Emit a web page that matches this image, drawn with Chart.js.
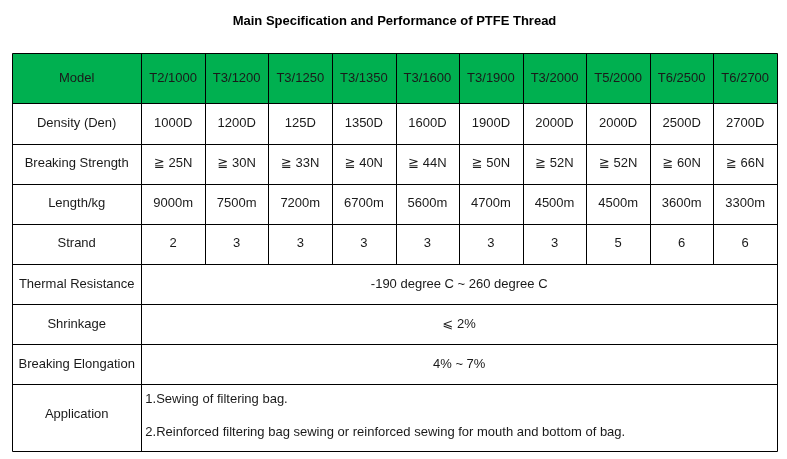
<!DOCTYPE html>
<html>
<head>
<meta charset="utf-8">
<title>PTFE Thread</title>
<script src="https://cdn.jsdelivr.net/npm/chart.js@4.4.1/dist/chart.umd.min.js"></script>
<style>
  body { margin: 0; background: #fff; }
  #wrap { width: 787px; height: 459px; }
</style>
</head>
<body>
<div id="wrap"><canvas id="specTable" width="787" height="459"></canvas></div>
<script>
var titleText = "Main Specification and Performance of PTFE Thread";
var rowLabels = ["Model", "Density (Den)", "Breaking Strength", "Length/kg", "Strand",
    "Thermal Resistance", "Shrinkage", "Breaking Elongation", "Application"];
var models = ["T2/1000", "T3/1200", "T3/1250", "T3/1350", "T3/1600",
    "T3/1900", "T3/2000", "T5/2000", "T6/2500", "T6/2700"];
var density = ["1000D", "1200D", "125D", "1350D", "1600D",
    "1900D", "2000D", "2000D", "2500D", "2700D"];
var strength = [25, 30, 33, 40, 44, 50, 52, 52, 60, 66];
var lengthPerKg = [9000, 7500, 7200, 6700, 5600, 4700, 4500, 4500, 3600, 3300];
var strand = [2, 3, 3, 3, 3, 3, 3, 5, 6, 6];
var thermal = "-190 degree C ~ 260 degree C";
var shrinkage = "\u2A7D 2%";
var elongation = "4% ~ 7%";
var application = ["1.Sewing of filtering bag.",
    "2.Reinforced filtering bag sewing or reinforced sewing for mouth and bottom of bag."];

// layout (in scale units, not data)
var labelColWidth = 2.035;
var rowHeights = [1.265, 1, 1, 1, 1, 1, 1, 1, 1.66];
var fontFamily = "'Liberation Sans', Arial, 'DejaVu Sans', 'Noto Sans CJK SC', sans-serif";

var colEdges = [0, labelColWidth];
for (var i = 1; i <= models.length; i++) colEdges.push(labelColWidth + i);
var rowEdges = [0];
for (var i = 0; i < rowHeights.length; i++) rowEdges.push(rowEdges[i] + rowHeights[i]);

// cell texts for the per-model rows
var modelRows = [
    models,
    density,
    strength.map(function (v) { return "\u2267 " + v + "N"; }),
    lengthPerKg.map(function (v) { return v + "m"; }),
    strand.map(String)
];
var mergedRows = [thermal, shrinkage, elongation];

var tablePlugin = {
    id: "tablePlugin",
    afterDraw: function (chart) {
        var ctx = chart.ctx;
        var xs = chart.scales.x, ys = chart.scales.y;
        var px = function (v) { return Math.round(xs.getPixelForValue(v)) + 0.5; };
        var py = function (v) { return Math.round(ys.getPixelForValue(v)) + 0.5; };
        var xEnd = colEdges[colEdges.length - 1];
        var yEnd = rowEdges[rowEdges.length - 1];

        ctx.save();
        // header background
        ctx.fillStyle = "#00b050";
        ctx.fillRect(px(0), py(0), px(xEnd) - px(0), py(rowEdges[1]) - py(0));

        ctx.font = "13px " + fontFamily;
        ctx.fillStyle = "#1a1a1a";
        ctx.textBaseline = "middle";
        ctx.textAlign = "center";

        // row labels
        for (var r = 0; r < rowLabels.length; r++) {
            var cy = ys.getPixelForValue((rowEdges[r] + rowEdges[r + 1]) / 2);
            if (r === rowLabels.length - 1) cy -= 3;
            ctx.fillText(rowLabels[r], xs.getPixelForValue(colEdges[0] / 2 + colEdges[1] / 2), cy);
        }
        // per-model rows
        for (var r = 0; r < modelRows.length; r++) {
            var cy = ys.getPixelForValue((rowEdges[r] + rowEdges[r + 1]) / 2);
            for (var c = 0; c < modelRows[r].length; c++) {
                var cx = xs.getPixelForValue((colEdges[c + 1] + colEdges[c + 2]) / 2);
                ctx.fillText(modelRows[r][c], cx, cy);
            }
        }
        // merged rows
        var mx = xs.getPixelForValue((colEdges[1] + xEnd) / 2);
        for (var m = 0; m < mergedRows.length; m++) {
            var r = modelRows.length + m;
            ctx.fillText(mergedRows[m], mx, ys.getPixelForValue((rowEdges[r] + rowEdges[r + 1]) / 2));
        }
        // application lines
        ctx.textAlign = "left";
        var ar = rowEdges.length - 2;
        var ax = xs.getPixelForValue(colEdges[1]) + 4;
        var ay0 = ys.getPixelForValue(rowEdges[ar]);
        ctx.fillText(application[0], ax, ay0 + 15);
        ctx.fillText(application[1], ax, ay0 + 48);

        // borders
        ctx.strokeStyle = "#000";
        ctx.lineWidth = 1;
        ctx.beginPath();
        for (var r = 0; r < rowEdges.length; r++) {
            ctx.moveTo(px(0), py(rowEdges[r]));
            ctx.lineTo(px(xEnd), py(rowEdges[r]));
        }
        for (var c = 0; c < colEdges.length; c++) {
            var bottom = (c <= 1 || c === colEdges.length - 1) ? yEnd : rowEdges[modelRows.length];
            ctx.moveTo(px(colEdges[c]), py(0));
            ctx.lineTo(px(colEdges[c]), py(bottom));
        }
        ctx.stroke();
        ctx.restore();
    }
};

new Chart(document.getElementById("specTable"), {
    type: "scatter",
    data: { datasets: [] },
    options: {
        responsive: false,
        animation: false,
        layout: { padding: { left: 12, right: 10, top: 0, bottom: 8 } },
        scales: {
            x: { type: "linear", min: 0, max: colEdges[colEdges.length - 1], display: false },
            y: { type: "linear", min: 0, max: rowEdges[rowEdges.length - 1], reverse: true, display: false }
        },
        plugins: {
            legend: { display: false },
            tooltip: { enabled: false },
            title: {
                display: true,
                text: titleText,
                color: "#000",
                font: { family: fontFamily, size: 13, weight: "bold" },
                padding: { top: 14, bottom: 23 }
            }
        }
    },
    plugins: [tablePlugin]
});
</script>
</body>
</html>
